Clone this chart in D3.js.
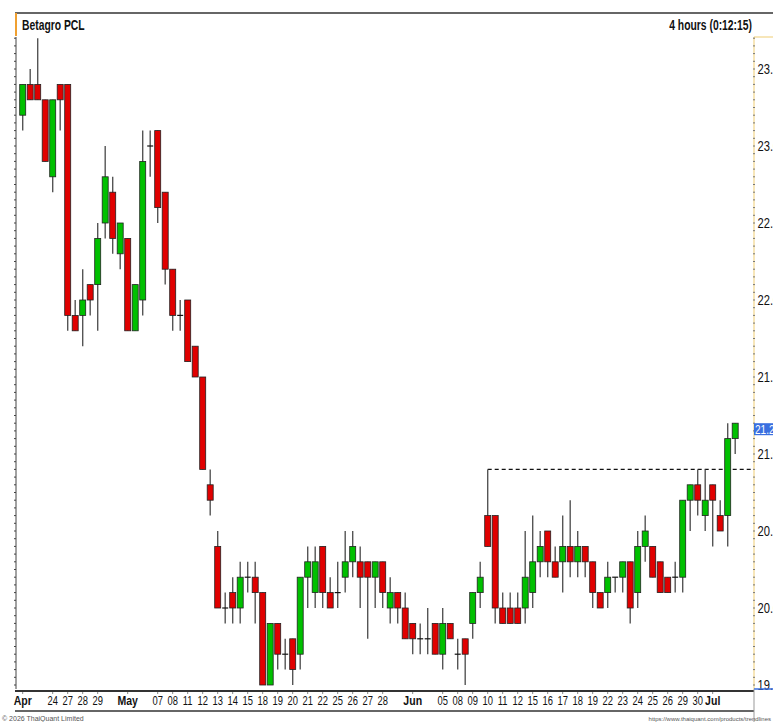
<!DOCTYPE html>
<html>
<head>
<meta charset="utf-8">
<script src="https://cdnjs.cloudflare.com/ajax/libs/d3/7.8.5/d3.min.js"></script>
<style>
  body { margin: 0; background: #fff; }
  text { font-family: "Liberation Sans", Arial, sans-serif; }
</style>
</head>
<body>
<div id="chart"></div>
<script>
  // day labels (one per trading day, two 4-hour bars per day)
  var dayLabels = ["Apr","","24","27","28","29","","May","","07","08","11","12","13","14","15","18","19","20","21","22","25","26","27","28","","Jun","","05","08","09","10","11","12","15","16","17","18","19","22","23","24","25","26","29","30","Jul",""]
  var monthLabels = ["Apr","May","Jun","Jul"]

  var open  = [23.2,23.4,23.4,23.3,22.8,23.4,23.4,21.9,21.9,22.1,22.1,22.5,22.7,22.3,22.4,21.8,22.0,23.0,23.1,22.7,22.2,21.9,22.0,21.7,21.5,20.8,
               20.4,20.0,20.1,20.0,20.2,20.2,20.1,19.5,19.9,19.7,19.8,19.7,20.2,20.1,20.4,20.1,20.1,20.2,20.3,20.3,20.3,20.2,20.3,20.0,
               20.1,20.0,19.9,19.8,19.8,19.9,19.7,19.9,19.7,19.8,19.9,20.1,20.6,20.6,20.0,20.0,20.0,20.0,20.1,20.3,20.5,20.3,20.3,20.4,
               20.3,20.4,20.3,20.1,20.1,20.2,20.2,20.3,20.1,20.4,20.4,20.3,20.2,20.2,20.2,20.7,20.8,20.6,20.8,20.6,20.6,21.1]
  var high  = [23.4,23.5,23.7,23.3,23.3,23.4,23.4,22.0,22.2,22.1,22.5,23.0,22.8,22.5,22.4,22.1,23.1,23.1,23.1,22.7,22.2,22.0,22.0,21.7,21.5,20.9,
               20.5,20.1,20.2,20.3,20.3,20.3,20.1,19.9,19.9,19.8,19.8,20.2,20.4,20.4,20.4,20.2,20.3,20.5,20.5,20.4,20.3,20.3,20.3,20.2,
               20.1,20.1,19.9,19.9,20.0,19.9,20.0,19.9,19.8,19.8,20.1,20.3,20.9,20.6,20.1,20.1,20.1,20.5,20.6,20.5,20.5,20.4,20.6,20.7,
               20.5,20.4,20.3,20.1,20.3,20.2,20.3,20.3,20.5,20.6,20.4,20.3,20.2,20.3,20.7,20.8,20.9,20.9,20.8,20.7,21.2,21.2]
  var low   = [23.1,23.3,23.3,22.9,22.7,23.1,21.8,21.8,21.7,21.9,21.8,22.4,22.3,22.2,21.8,21.8,21.9,22.8,22.5,22.1,21.8,21.8,21.6,21.5,20.9,20.6,
               20.0,19.9,19.9,19.9,20.1,19.9,19.5,19.5,19.6,19.6,19.5,19.6,20.0,20.0,20.0,20.0,20.0,20.1,20.2,20.0,19.8,20.0,20.0,19.9,
               19.9,19.8,19.7,19.7,19.7,19.7,19.6,19.8,19.6,19.5,19.8,20.0,20.4,19.9,19.9,19.9,19.9,19.9,20.0,20.2,20.2,20.2,20.1,20.2,
               20.2,20.2,20.0,20.0,20.0,20.1,20.1,19.9,20.0,20.3,20.2,20.1,20.1,20.1,20.1,20.5,20.6,20.5,20.4,20.5,20.4,21.0]
  var close = [23.4,23.3,23.3,22.9,23.3,23.3,21.9,21.8,22.0,22.0,22.4,22.8,22.4,22.5,21.8,22.1,22.9,23.0,22.6,22.2,21.9,21.9,21.6,21.5,20.9,20.7,
               20.0,20.0,20.0,20.2,20.2,20.1,19.5,19.9,19.7,19.7,19.6,20.2,20.3,20.3,20.1,20.0,20.1,20.3,20.4,20.2,20.2,20.3,20.1,20.1,
               20.0,19.8,19.8,19.8,19.8,19.7,19.9,19.8,19.7,19.7,20.1,20.2,20.4,20.0,19.9,19.9,19.9,20.2,20.3,20.4,20.3,20.2,20.4,20.3,
               20.4,20.3,20.1,20.0,20.2,20.2,20.3,20.0,20.4,20.5,20.2,20.1,20.1,20.2,20.7,20.8,20.7,20.7,20.7,20.5,21.1,21.2]

  var priceTicks = [19.5, 20.0, 20.5, 21.0, 21.5, 22.0, 22.5, 23.0, 23.5]
  var resistance = 20.9
  var resistanceStart = 62
  var lastPrice = 21.2

  var W = 773, H = 722
  var plot = {left: 16, right: 754, top: 37, bottom: 689}

  var svg = d3.select("#chart").append("svg")
      .attr("width", W).attr("height", H)
      .attr("viewBox", [0, 0, W, H])
      .style("display", "block")

  svg.append("rect").attr("width", W).attr("height", H).attr("fill", "#fff")

  var nBars = close.length
  var x = d3.scaleLinear().domain([0, nBars - 1]).range([22.7, 735.2])
  var y = d3.scaleLinear().domain([19.5, 23.5]).range([685, 69])

  var bars = d3.range(nBars).map(i => ({i: i, o: open[i], h: high[i], l: low[i], c: close[i]}))

  // narrow text helper (chart font is a condensed face)
  function ntext(parent, tx, ty, sx) {
      return parent.append("text").attr("transform", `translate(${tx},${ty}) scale(${sx},1)`)
  }

  svg.append("clipPath").attr("id", "plotclip").append("rect")
      .attr("x", plot.left).attr("y", plot.top)
      .attr("width", plot.right - plot.left).attr("height", plot.bottom - plot.top)

  var g = svg.append("g").attr("clip-path", "url(#plotclip)")

  // resistance line
  g.append("line")
      .attr("x1", x(resistanceStart)).attr("x2", plot.right)
      .attr("y1", y(resistance)).attr("y2", y(resistance))
      .attr("stroke", "#111").attr("stroke-width", 1.2)
      .attr("stroke-dasharray", "4,3")

  // wicks
  g.selectAll("line.wick").data(bars).join("line")
      .attr("class", "wick")
      .attr("x1", d => x(d.i)).attr("x2", d => x(d.i))
      .attr("y1", d => y(d.h)).attr("y2", d => y(d.l))
      .attr("stroke", "#555").attr("stroke-width", 1.4)

  // bodies
  g.selectAll("rect.body").data(bars.filter(d => d.o !== d.c)).join("rect")
      .attr("class", "body")
      .attr("x", d => x(d.i) - 3)
      .attr("width", 6)
      .attr("y", d => y(Math.max(d.o, d.c)))
      .attr("height", d => Math.abs(y(d.o) - y(d.c)))
      .attr("fill", d => d.c > d.o ? "#00c000" : "#e00000")
      .attr("stroke", "#222").attr("stroke-width", 0.8)

  // dojis
  g.selectAll("line.doji").data(bars.filter(d => d.o === d.c)).join("line")
      .attr("class", "doji")
      .attr("x1", d => x(d.i) - 3).attr("x2", d => x(d.i) + 3)
      .attr("y1", d => y(d.c)).attr("y2", d => y(d.c))
      .attr("stroke", "#111").attr("stroke-width", 1.2)

  // top frame + title
  svg.append("line").attr("x1", 15).attr("x2", W).attr("y1", 13).attr("y2", 13)
      .attr("stroke", "#333").attr("stroke-width", 1.5)
  svg.append("line").attr("x1", 16).attr("x2", 16).attr("y1", 13).attr("y2", 36)
      .attr("stroke", "#f0a030").attr("stroke-width", 2)
  ntext(svg, 22, 30, 0.74)
      .attr("font-size", 14).attr("font-weight", "bold").attr("fill", "#111")
      .text("Betagro PCL")
  ntext(svg, 752, 30, 0.74).attr("text-anchor", "end")
      .attr("font-size", 14).attr("font-weight", "bold").attr("fill", "#111")
      .text("4 hours (0:12:15)")

  // left axis
  var minor = d3.range(19.45, 23.76, 0.05).filter(v => y(v) > plot.top && y(v) < plot.bottom)
  svg.append("line").attr("x1", plot.left).attr("x2", plot.left)
      .attr("y1", plot.top).attr("y2", plot.bottom)
      .attr("stroke", "#444").attr("stroke-width", 1)
  svg.append("g").selectAll("line").data(minor).join("line")
      .attr("x1", plot.left - 2).attr("x2", plot.left)
      .attr("y1", d => y(d)).attr("y2", d => y(d))
      .attr("stroke", "#444")

  // right axis
  svg.append("line").attr("x1", plot.right).attr("x2", W).attr("y1", plot.top).attr("y2", plot.top)
      .attr("stroke", "#f2d58a").attr("stroke-width", 1.2)
  svg.append("line").attr("x1", plot.right).attr("x2", plot.right)
      .attr("y1", plot.top).attr("y2", plot.bottom)
      .attr("stroke", "#f2d58a").attr("stroke-width", 1.2)
  svg.append("g").selectAll("line").data(minor).join("line")
      .attr("x1", plot.right - 1).attr("x2", plot.right + 1)
      .attr("y1", d => y(d)).attr("y2", d => y(d))
      .attr("stroke", "#777")
  var pAx = svg.append("g")
  priceTicks.forEach(v => {
      ntext(pAx, plot.right + 3.5, y(v) + 5, 0.8)
          .attr("font-size", 14).attr("fill", "#111")
          .text(v.toFixed(2))
  })

  // last price marker
  svg.append("rect").attr("x", plot.right).attr("y", y(lastPrice))
      .attr("width", W - plot.right).attr("height", 12)
      .attr("fill", "#3a6fe0")
  ntext(svg, plot.right + 1, y(lastPrice) + 10.5, 0.77)
      .attr("font-size", 13).attr("fill", "#fff")
      .text(lastPrice.toFixed(2))

  // bottom axis
  svg.append("line").attr("x1", 15).attr("x2", plot.right).attr("y1", 691).attr("y2", 691)
      .attr("stroke", "#333").attr("stroke-width", 2)
  svg.append("line").attr("x1", plot.right).attr("x2", W).attr("y1", 689).attr("y2", 689)
      .attr("stroke", "#3a6fe0").attr("stroke-width", 1.5)
  svg.append("line").attr("x1", 15).attr("x2", plot.right).attr("y1", 711).attr("y2", 711)
      .attr("stroke", "#333").attr("stroke-width", 1.5)
  svg.append("line").attr("x1", plot.right).attr("x2", plot.right).attr("y1", 689).attr("y2", H)
      .attr("stroke", "#999").attr("stroke-width", 1)

  var days = dayLabels.map((t, k) => ({t: t, bar: k * 2})).filter(d => d.t !== "")
  var xAx = svg.append("g")
  xAx.selectAll("line").data(days).join("line")
      .attr("x1", d => x(d.bar)).attr("x2", d => x(d.bar))
      .attr("y1", 692).attr("y2", 694)
      .attr("stroke", "#888")
  xAx.selectAll("text").data(days).join("text")
      .attr("transform", d => `translate(${x(d.bar)},704.5) scale(${monthLabels.includes(d.t) ? 0.78 : 0.75},1)`)
      .attr("text-anchor", "middle")
      .attr("font-size", d => monthLabels.includes(d.t) ? 13.5 : 12.5)
      .attr("font-weight", d => monthLabels.includes(d.t) ? "bold" : "normal")
      .attr("fill", "#111")
      .text(d => d.t)

  // footer
  svg.append("text").attr("x", 2).attr("y", 721).attr("font-size", 7).attr("fill", "#555")
      .text("\u00a9 2026 ThaiQuant Limited")
  svg.append("text").attr("x", 771).attr("y", 721).attr("text-anchor", "end")
      .attr("font-size", 6).attr("fill", "#555")
      .text("https://www.thaiquant.com/products/trendlines")
</script>
</body>
</html>
